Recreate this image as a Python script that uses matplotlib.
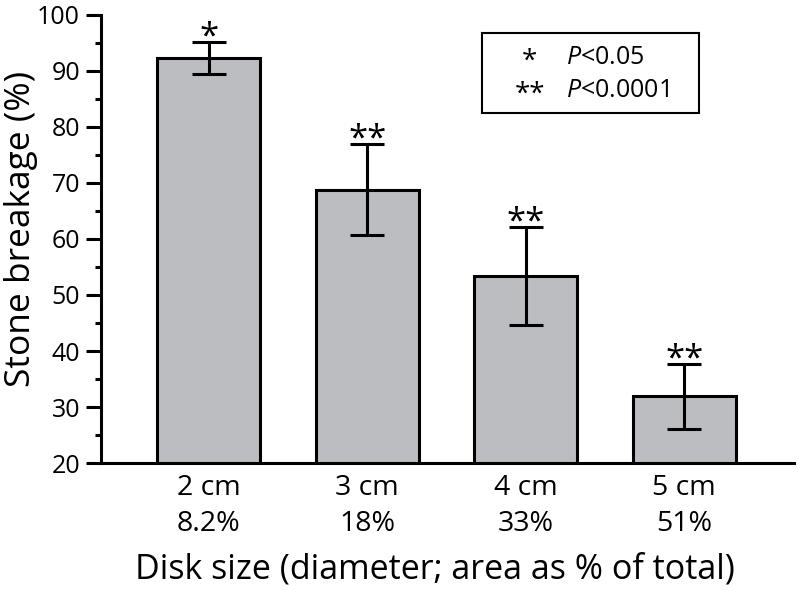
import matplotlib
matplotlib.use("Agg")
import matplotlib.pyplot as plt
from matplotlib.patches import Rectangle

# -------- data --------
disk_sizes = ["2 cm", "3 cm", "4 cm", "5 cm"]
area_pct = ["8.2%", "18%", "33%", "51%"]
breakage = [92.3, 68.8, 53.4, 31.9]
err_up = [2.9, 8.1, 8.7, 5.8]
err_down = [2.9, 8.1, 8.7, 5.8]
signif = ["*", "**", "**", "**"]

plt.rcParams["font.family"] = ["Open Sans", "DejaVu Sans"]
plt.rcParams["mathtext.fontset"] = "custom"
plt.rcParams["mathtext.it"] = "Open Sans:italic"
plt.rcParams["mathtext.rm"] = "Open Sans"

bar_grey = "#BCBDC0"
lw = 2.2

fig = plt.figure(figsize=(8, 5.9), dpi=100)
ax = fig.add_axes([0.126, 0.215, 0.866, 0.76])

x = list(range(len(breakage)))
ax.bar(x, breakage, width=0.65, bottom=0, color=bar_grey,
       edgecolor="black", linewidth=lw, zorder=2)
ax.errorbar(x, breakage, yerr=[err_down, err_up], fmt="none",
            ecolor="black", elinewidth=lw, capsize=12, capthick=lw, zorder=3)

# significance stars above the error bars
for xi, m, e, s in zip(x, breakage, err_up, signif):
    ax.annotate(s, (xi, m + e), xytext=(0, -9), textcoords="offset points",
                ha="center", va="bottom", fontsize=25, color="black")

# -------- axes styling --------
ax.set_xlim(-0.68, 3.69)
ax.set_ylim(20, 100)
ax.set_yticks(range(20, 101, 10))
ax.set_yticks(range(25, 100, 10), minor=True)
ax.set_xticks(x)
ax.set_xticklabels([f"{d}\n{a}" for d, a in zip(disk_sizes, area_pct)],
                   fontsize=20.5, linespacing=1.35)
ax.tick_params(axis="x", length=0, pad=8)
ax.tick_params(axis="y", which="major", length=11, width=lw, labelsize=18, pad=4)
ax.tick_params(axis="y", which="minor", length=4.5, width=lw)

for side in ("top", "right"):
    ax.spines[side].set_visible(False)
for side in ("left", "bottom"):
    ax.spines[side].set_linewidth(lw)

ax.set_ylabel("Stone breakage (%)", fontsize=25.5)
ax.yaxis.set_label_coords(-0.09, 0.522)
ax.set_xlabel("Disk size (diameter; area as % of total)", fontsize=24.5)
ax.xaxis.set_label_coords(0.483, -0.2)

# -------- significance key --------
ax.add_patch(Rectangle((0.55, 0.781), 0.314, 0.179, transform=ax.transAxes,
                       fill=False, edgecolor="black", linewidth=1.5, zorder=4))
key_rows = [("*", r"$P$<0.05", 0.905), ("**", r"$P$<0.0001", 0.832)]
for star, label, yy in key_rows:
    ax.text(0.619, yy - 0.01, star, transform=ax.transAxes, ha="center",
            va="center", fontsize=20)
    ax.text(0.672, yy, label, transform=ax.transAxes, ha="left",
            va="center", fontsize=18)

fig.savefig("out.png", dpi=100)
